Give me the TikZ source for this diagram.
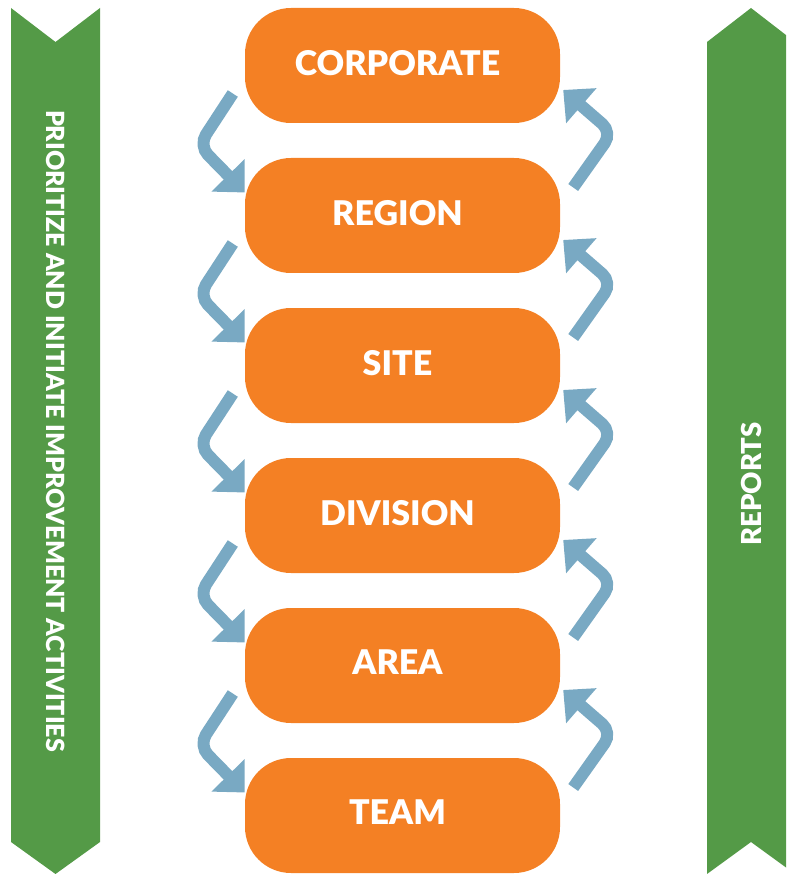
\documentclass[tikz,border=0pt]{standalone}
\usepackage{fontspec}
\setmainfont{Lato}[BoldFont={Lato Black}]
\usetikzlibrary{calc,arrows.meta}
\definecolor{boxorange}{HTML}{F48024}
\definecolor{arrowblue}{HTML}{79A9C3}
\definecolor{bannergreen}{HTML}{549A47}
\tikzset{
	level/.style={fill=boxorange, rounded corners=46pt, minimum width=315pt, minimum height=115pt,
		inner sep=0pt, text=white, font=\bfseries\fontsize{34}{34}\selectfont},
	flow/.style={arrowblue, line width=12pt, rounded corners=13pt, -{Triangle[length=24pt,width=45pt]}},
	banner/.style={fill=bannergreen},
	bannertext/.style={text=white, font=\bfseries\fontsize{25}{25}\selectfont},
}
\begin{document}
\begin{tikzpicture}[x=1pt,y=-1pt]
\useasboundingbox (0,0) rectangle (786,874);
\clip (0,0) rectangle (786,874);
% banners
\fill[banner] (11,8) -- (55.5,42) -- (100,8) -- (100,842) -- (55.5,874) -- (11,842) -- cycle;
\fill[banner] (707,42) -- (751,8) -- (795,42) -- (795,874) -- (751,842) -- (707,874) -- cycle;
\node[bannertext, rotate=-90] (prioritize) at (55.5,431) {PRIORITIZE AND INITIATE IMPROVEMENT ACTIVITIES};
\node[bannertext, rotate=90, font=\bfseries\fontsize{27.5}{27.5}\selectfont] (reports) at (751,484) {REPORTS};
% levels
\foreach \name/\txt [count=\i from 0] in {corporate/CORPORATE, region/REGION, site/SITE, division/DIVISION, area/AREA, team/TEAM}
	\node[level] (\name) at (402.5,65.5+150*\i) {\hspace*{-10pt}\raisebox{6pt}{\txt}};
% down and up
\foreach \a/\b in {corporate/region, region/site, site/division, division/area, area/team} {
	\draw[flow] ($(\a.west)+(-12,28)$) -- ($(\a.west)+(-46,80)$) -- ($(\b.west)+(0,-23)$);
	\draw[flow] ($(\b.east)+(13,-28)$) -- ($(\b.east)+(52,-83)$) -- ($(\a.east)+(3,24.5)$);
}
\end{tikzpicture}
\end{document}
